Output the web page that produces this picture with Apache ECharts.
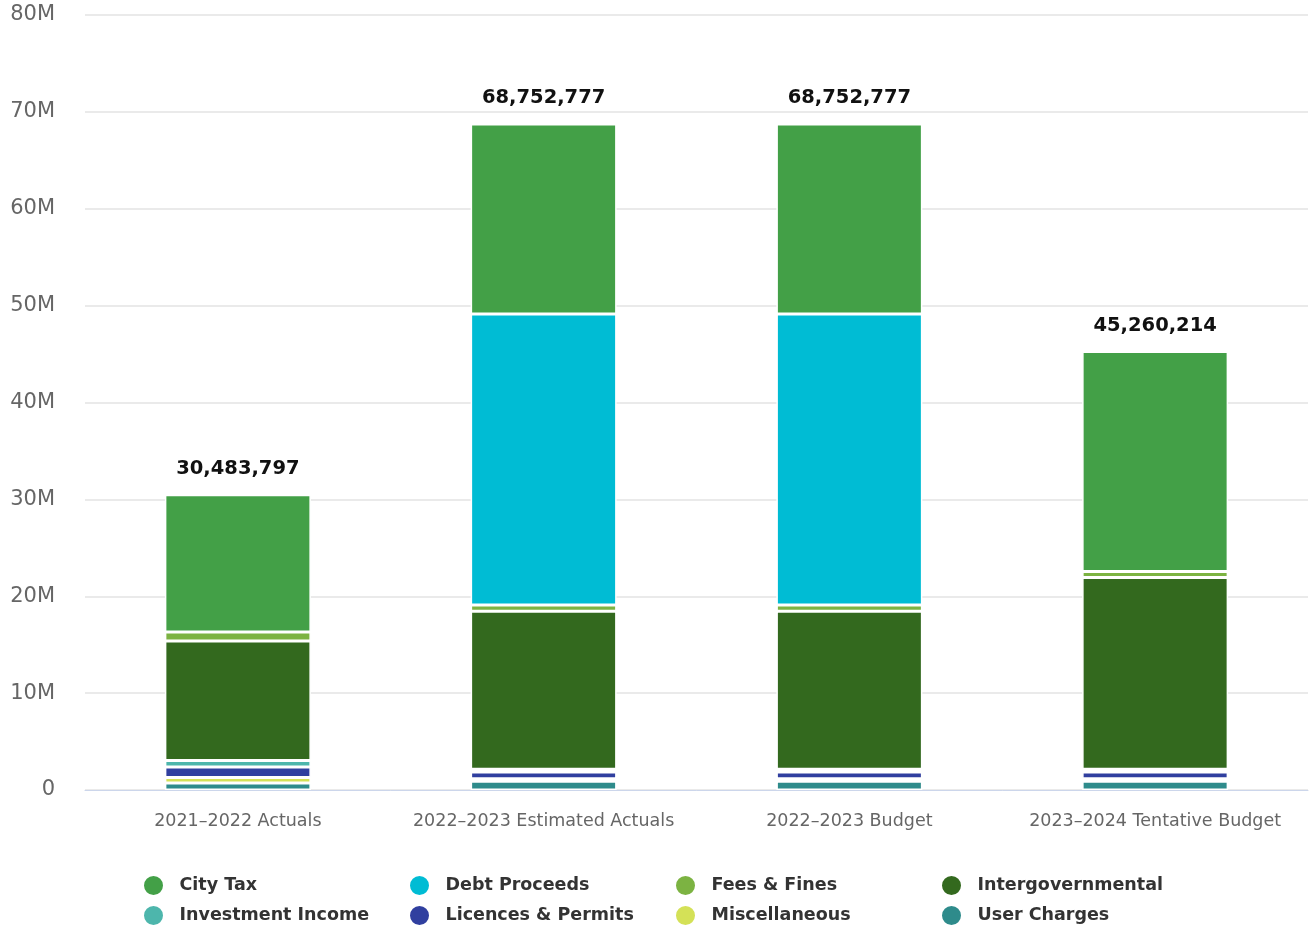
<!DOCTYPE html>
<html>
<head>
<meta charset="utf-8">
<script src="https://cdn.jsdelivr.net/npm/echarts@6/dist/echarts.min.js"></script>
<style>
html,body{margin:0;padding:0;background:#fff;}
#chart{width:1312px;height:930px;}
</style>
</head>
<body>
<div id="chart"></div>
<script>
const categories = ['2021–2022 Actuals', '2022–2023 Estimated Actuals', '2022–2023 Budget', '2023–2024 Tentative Budget'];
const totals = [30483797, 68752777, 68752777, 45260214];

const cityTax          = [14170000, 19610000, 19610000, 22710000];
const debtProceeds     = [0, 30040000, 30040000, 0];
const feesFines        = [930000, 650000, 650000, 610000];
const intergovernmental= [12340000, 16300000, 16300000, 19790000];
const investmentIncome = [670000, 300000, 300000, 300000];
const licencesPermits  = [1080000, 700000, 700000, 700000];
const miscellaneous    = [570000, 250000, 250000, 250000];
const userCharges      = [720000, 900000, 900000, 900000];

const yTicks = [0, 10000000, 20000000, 30000000, 40000000, 50000000, 60000000, 70000000, 80000000];

const legendOrder = ['City Tax', 'Debt Proceeds', 'Fees & Fines', 'Intergovernmental', 'Investment Income', 'Licences & Permits', 'Miscellaneous', 'User Charges'];

const stackDefs = [
  {name: 'User Charges', data: userCharges, color: '#2e8b8b'},
  {name: 'Miscellaneous', data: miscellaneous, color: '#d4e157'},
  {name: 'Licences & Permits', data: licencesPermits, color: '#303f9f'},
  {name: 'Investment Income', data: investmentIncome, color: '#4db6ac'},
  {name: 'Intergovernmental', data: intergovernmental, color: '#33691e'},
  {name: 'Fees & Fines', data: feesFines, color: '#7cb342'},
  {name: 'Debt Proceeds', data: debtProceeds, color: '#00bcd4'},
  {name: 'City Tax', data: cityTax, color: '#43a047'}
];

const FONT = '"DejaVu Sans", Verdana, sans-serif';

const series = stackDefs.map((s, i) => {
  const o = {
    name: s.name,
    type: 'bar',
    stack: 'total',
    barWidth: 146,
    data: s.data,
    itemStyle: {color: s.color, borderColor: '#ffffff', borderWidth: 1.5},
    emphasis: {disabled: true}
  };
  if (i === stackDefs.length - 1) {
    o.label = {
      show: true,
      position: 'top',
      distance: 16,
      formatter: p => totals[p.dataIndex].toLocaleString('en-US'),
      fontFamily: FONT,
      fontSize: 19.5,
      fontWeight: 'bold',
      color: '#111'
    };
  }
  return o;
});

const legends = legendOrder.map((name, i) => ({
  data: [name],
  left: 142 + 266 * (i % 4),
  top: 874 + 30 * Math.floor(i / 4),
  padding: 0,
  icon: 'circle',
  itemWidth: 42,
  itemHeight: 21,
  textStyle: {fontFamily: FONT, fontSize: 17.5, fontWeight: 'bold', color: '#333'},
  selectedMode: false
}));

const chart = echarts.init(document.getElementById('chart'), null, {renderer: 'canvas'});
chart.setOption({
  animation: false,
  backgroundColor: '#ffffff',
  grid: {left: 85, right: 4, top: 15, bottom: 140, containLabel: false},
  legend: legends,
  xAxis: {
    type: 'category',
    data: categories,
    axisLine: {lineStyle: {color: '#ccd6eb', width: 1}},
    axisTick: {show: false},
    axisLabel: {fontFamily: FONT, fontSize: 17.5, color: '#666', margin: 22, interval: 0}
  },
  yAxis: {
    type: 'value',
    min: yTicks[0],
    max: yTicks[yTicks.length - 1],
    interval: yTicks[1] - yTicks[0],
    axisLine: {show: false},
    axisTick: {show: false},
    splitLine: {lineStyle: {color: '#e3e3e3', width: 1.5}},
    axisLabel: {
      fontFamily: FONT, fontSize: 21, color: '#666', margin: 30,
      formatter: v => v === 0 ? '0' : (v / 1000000) + 'M'
    }
  },
  series: series
});
</script>
</body>
</html>
